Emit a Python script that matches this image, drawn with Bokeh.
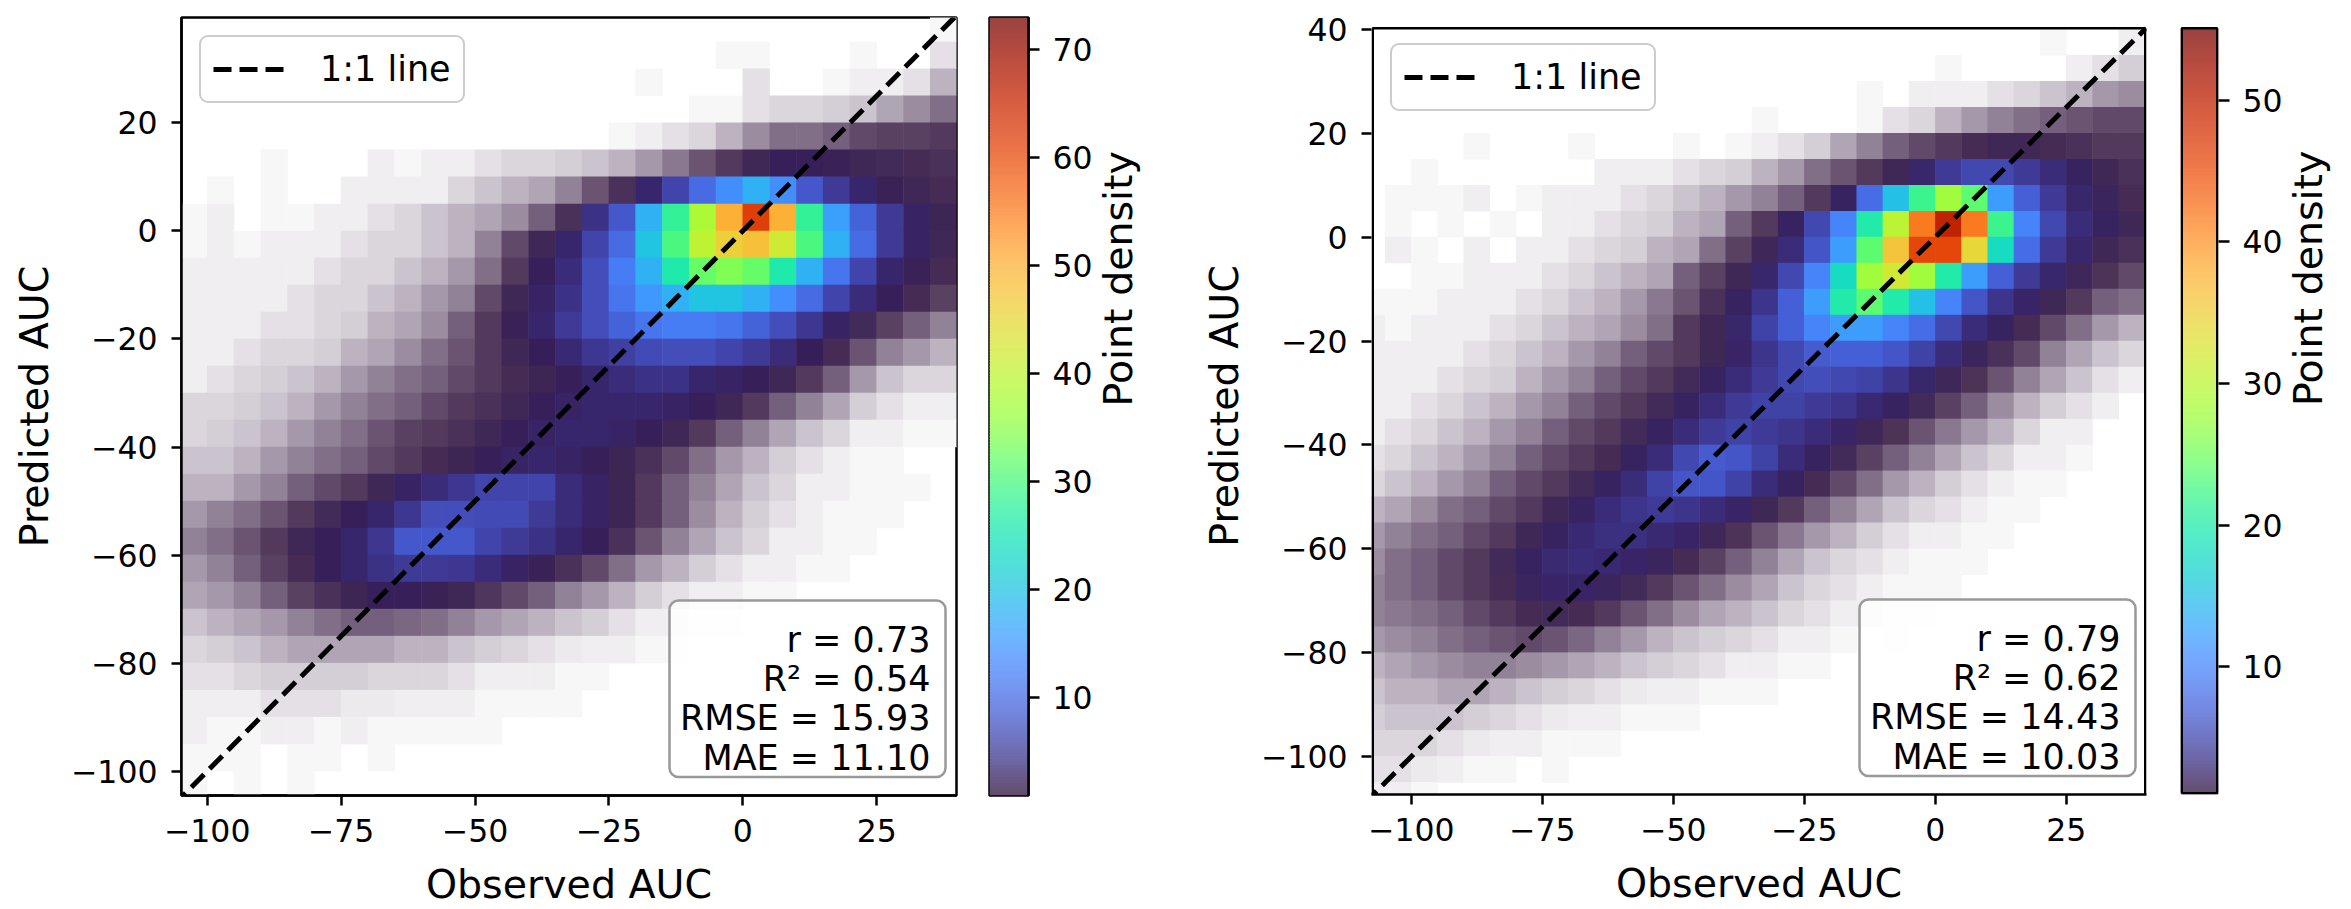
import math
from bokeh.plotting import figure
from bokeh.models import (Range1d, FixedTicker, Legend, LegendItem, BoxAnnotation,
                          Label, ColumnDataSource)
from bokeh.layouts import row
from bokeh.palettes import Turbo256
from bokeh.embed import file_html
from bokeh.resources import INLINE

FONT = "DejaVu Sans"

# ---------------- axis ranges / ticks ----------------
left_xlim = (-104.8, 39.9)
left_ylim = (-104.5, 39.5)
right_xlim = (-107.6, 40.3)
right_ylim = (-107.3, 40.2)

x_ticks = [-100, -75, -50, -25, 0, 25]
left_y_ticks = [-100, -80, -60, -40, -20, 0, 20]
right_y_ticks = [-100, -80, -60, -40, -20, 0, 20, 40]

left_cbar_lim = (0.93, 72.95)
right_cbar_lim = (1.0, 55.07)
left_cbar_ticks = [10, 20, 30, 40, 50, 60, 70]
right_cbar_ticks = [10, 20, 30, 40, 50]

left_stats = ["r = 0.73", "R² = 0.54", "RMSE = 15.93", "MAE = 11.10"]
right_stats = ["r = 0.79", "R² = 0.62", "RMSE = 14.43", "MAE = 10.03"]

x_label = "Observed AUC"
y_label = "Predicted AUC"
cbar_label = "Point density"
line_label = "1:1 line"

# ---------------- density ----------------
# 5x5 AUC cells; rows go from y=40 downward, columns from x_start rightward.
# values are point density (colour-bar units); values < 1 = sparse coverage.
cell = 5
grid_top = 40
left_x_start = -105
right_x_start = -110

left_density = [
    [0]*28 + [.03],
    [0]*20 + [.03, .03, 0, 0, 0, .03, 0, 0, .08],
    [0]*17 + [.03, 0, 0, 0, .08, 0, 0, .03, .05, .05, .08, .2],
    [0]*19 + [.03, .03, .08, .1, .1, .12, .15, .25, .35, .5],
    [0]*16 + [.03, .05, .08, .1, .2, .35, .5, .5, .6, .8, .9, .9, 1.0],
    [0, 0, 0, .03, 0, 0, 0, .05, .03, .05, .05, .08, .1, .1, .12, .15, .2, .3, .45, .7, 1.0, 1.5, 2, 2, 1.8, 1.5, 1.4, 1.3, 1.2],
    [0, .03, 0, .03, 0, 0, .05, .05, .05, .05, .1, .15, .2, .25, .4, .7, 1.2, 3, 6, 10, 14, 18, 14, 8, 5, 3, 1.8, 1.5, 1.3],
    [.03, .05, 0, .03, .03, .05, .05, .08, .1, .15, .2, .25, .35, .6, 1.2, 4, 8, 18, 28, 38, 50, 62, 50, 28, 16, 9, 5, 2.5, 1.6],
    [.03, .05, .03, .05, .05, .05, .08, .1, .1, .15, .2, .4, .8, 1.5, 3, 6, 10, 20, 30, 40, 46, 48, 42, 30, 18, 10, 5, 2.5, 1.5],
    [.05, .05, .05, .05, .05, .08, .1, .1, .15, .2, .3, .5, 1.0, 2, 3.5, 7, 12, 18, 26, 32, 34, 32, 26, 18, 11, 6, 3, 1.8, 1.3],
    [.05, .05, .05, .05, .08, .1, .1, .15, .2, .3, .4, .8, 1.5, 2.5, 4, 7, 11, 15, 18, 20, 20, 18, 14, 10, 6, 3.5, 2, 1.3, .9],
    [.05, .05, .05, .08, .08, .1, .12, .2, .25, .35, .6, 1.0, 1.8, 3, 5, 7, 9, 11, 12, 12, 11, 9, 7, 4.5, 2.5, 1.4, .9, .6, .4],
    [.05, .05, .08, .1, .1, .12, .2, .25, .35, .5, .7, 1.0, 1.5, 2.2, 3.2, 4.5, 5.5, 6.5, 7, 7, 6, 5, 3.5, 2.2, 1.3, .7, .4, .3, .2],
    [.05, .08, .1, .12, .15, .2, .3, .4, .5, .6, .8, 1.0, 1.3, 1.6, 2, 3, 3.5, 4, 4, 3, 2.5, 2, 1.5, 1.0, .6, .3, .15, .1, .1],
    [.1, .1, .12, .15, .2, .3, .4, .5, .6, .8, 1.0, 1.2, 1.5, 2, 2.5, 3, 3, 3, 2.5, 2, 1.5, 1.0, .6, .4, .25, .12, .08, .05, .05],
    [.1, .12, .15, .2, .3, .4, .5, .7, .9, 1.0, 1.2, 1.5, 2, 2.5, 3, 3, 2.5, 2, 1.5, 1.0, .6, .4, .25, .15, .1, .05, .05, .03, .03],
    [.15, .15, .2, .3, .4, .5, .6, .8, 1.0, 1.3, 1.6, 2, 2.5, 3, 2.5, 2, 1.6, 1.2, .8, .5, .3, .2, .12, .08, .05, .03, .03, 0, 0],
    [.2, .2, .3, .4, .6, .8, 1.0, 1.5, 2.5, 3.5, 4.5, 6, 6, 6, 3.5, 2.5, 1.6, 1.0, .6, .4, .25, .15, .1, .05, .05, .03, .03, .03, 0],
    [.3, .4, .5, .7, 1.0, 1.4, 2, 3, 4.5, 7, 7, 6.5, 6.5, 5, 3.5, 2.5, 1.6, 1.0, .6, .35, .2, .12, .08, .05, .03, .03, .03, 0, 0],
    [.4, .5, .7, 1.0, 1.5, 2, 3, 4.5, 8, 8, 8, 6, 5, 4, 3, 2, 1.2, .7, .4, .25, .15, .1, .05, .05, .03, .03, 0, 0, 0],
    [.3, .4, .6, .9, 1.3, 2, 3, 4, 5, 5, 4.5, 3.5, 2.5, 1.8, 1.2, .8, .5, .3, .2, .12, .08, .05, .05, .03, .03, 0, 0, 0, 0],
    [.25, .3, .4, .6, .9, 1.2, 1.6, 2, 2, 1.8, 1.5, 1.1, .8, .6, .4, .3, .2, .12, .08, .05, .05, .03, .03, 0, 0, 0, 0, 0, 0],
    [.15, .2, .25, .3, .4, .5, .6, .6, .55, .5, .4, .3, .25, .2, .15, .12, .08, .05, .05, .03, .03, 0, 0, 0, 0, 0, 0, 0, 0],
    [.1, .12, .15, .2, .25, .25, .25, .25, .2, .2, .15, .12, .1, .08, .06, .05, .05, .03, .03] + [0]*10,
    [.08, .08, .1, .12, .12, .12, .12, .1, .1, .1, .08, .05, .05, .05, .03, .03] + [0]*13,
    [.05, .05, .05, .08, .08, .08, .06, .06, .05, .05, .05, .03, .03, .03, .03] + [0]*14,
    [.05, .03, .03, .05, .05, .03, .05, .03, .03, .03, .03, .03] + [0]*17,
    [.03, .03, .03, 0, .03, .03, 0, .03] + [0]*21,
    [.03, 0, .03, 0, .03] + [0]*24,
]

right_density = [
    [0]*26 + [.03, 0, 0, .05],
    [0]*22 + [.03, 0, 0, 0, 0, .05, .08, .12],
    [0]*19 + [.03, 0, .05, .05, .05, .08, .1, .15, .2, .3, .35],
    [0]*15 + [.03, 0, 0, 0, .03, .08, .1, .2, .3, .4, .5, .6, .7, .8, .8],
    [0, 0, 0, 0, .03, 0, 0, 0, .03, 0, 0, 0, .03, 0, .03, .05, .08, .12, .25, .4, .6, .8, 1.0, 1.3, 1.5, 1.5, 1.3, 1.2, 1.0, 1.0],
    [0, 0, .03, 0, 0, 0, 0, 0, 0, .05, .05, .05, .08, .1, .12, .2, .3, .5, .7, 1.0, 1.5, 2.5, 4, 5, 5, 4, 3, 2, 1.5, 1.2],
    [0, .03, .03, .03, .05, 0, .03, .05, .05, .05, .08, .1, .15, .2, .3, .4, .6, 1.0, 2, 8, 15, 22, 28, 24, 12, 7, 4, 2.5, 1.8, 1.3],
    [0, .03, 0, .03, 0, .03, 0, .05, .05, .08, .1, .12, .2, .25, .6, 1.0, 2, 5, 10, 20, 30, 42, 50, 42, 22, 10, 5, 3, 2, 1.5],
    [0, .05, .03, 0, .05, 0, .05, .05, .08, .1, .12, .2, .25, .5, .9, 1.6, 3, 6, 12, 24, 36, 46, 46, 34, 18, 8, 4, 2.5, 1.5, 1.2],
    [0, 0, .03, .03, .05, .05, .05, .08, .1, .15, .2, .25, .6, .9, 1.5, 2.5, 5, 10, 18, 28, 32, 28, 20, 12, 7, 4, 2.5, 1.6, 1.1, .8],
    [.03, .03, .03, .05, .05, .05, .08, .1, .15, .2, .3, .45, .7, 1.2, 2, 3.5, 7, 12, 20, 24, 20, 15, 10, 6, 3.5, 2.2, 1.5, 1.0, .6, .5],
    [.05, .03, .05, .05, .05, .08, .1, .15, .2, .25, .35, .5, 1.0, 1.5, 2.5, 4.5, 7, 10, 12, 12, 10, 8, 5, 3, 2, 1.3, .8, .5, .3, .2],
    [.05, .05, .05, .05, .08, .1, .15, .2, .3, .4, .6, .8, 1.0, 1.5, 2.2, 3.5, 5, 6.5, 7, 7, 6, 4.5, 3, 1.8, 1.2, .8, .4, .25, .15, .1],
    [.05, .05, .05, .08, .1, .12, .2, .3, .4, .6, .8, 1.0, 1.4, 2, 3, 4, 5, 5.5, 5, 4.5, 3.5, 2.5, 1.6, 1.1, .7, .4, .25, .15, .08, .05],
    [.05, .05, .08, .1, .15, .2, .3, .4, .6, .8, 1.0, 1.4, 2, 3, 4, 4.5, 4.5, 4, 3.5, 2.8, 2, 1.4, .9, .6, .35, .2, .12, .08, .05, 0],
    [.05, .08, .1, .15, .2, .3, .4, .6, .8, 1.0, 1.4, 2, 3, 4, 4.5, 4, 3.5, 3, 2.2, 1.6, 1.1, .7, .45, .3, .2, .1, .05, .05, 0, 0],
    [.08, .1, .15, .2, .3, .4, .6, .8, 1.0, 1.3, 2, 3, 5, 6.5, 6, 4.5, 3, 2, 1.4, .9, .6, .4, .25, .15, .1, .05, .05, .03, 0, 0],
    [.1, .15, .2, .3, .4, .6, .8, 1.0, 1.4, 2, 3, 4.5, 6, 6, 4.5, 3, 2, 1.3, .8, .5, .3, .2, .12, .08, .05, .03, .03, 0, 0, 0],
    [.2, .25, .35, .5, .6, .8, 1.0, 1.5, 2, 3, 3.5, 4, 3.5, 3, 2.2, 1.5, 1.0, .6, .4, .25, .15, .1, .08, .05, .03, .03, 0, 0, 0, 0],
    [.3, .4, .5, .6, .8, 1.0, 1.5, 2, 2.8, 3.2, 3.2, 2.8, 2.2, 1.6, 1.1, .7, .45, .3, .2, .12, .08, .05, .05, .03, .03, 0, 0, 0, 0, 0],
    [.35, .5, .6, .8, 1.0, 1.4, 2, 2.6, 3, 2.8, 2.3, 1.8, 1.3, .9, .6, .4, .25, .15, .1, .08, .05, .03, .03, .03, 0, 0, 0, 0, 0, 0],
    [.4, .5, .6, .8, 1.0, 1.3, 1.8, 2.2, 2.2, 1.8, 1.4, 1.0, .7, .5, .35, .25, .15, .1, .08, .05, .03, .03, .03, 0, 0, 0, 0, 0, 0, 0],
    [.4, .45, .5, .6, .8, 1.0, 1.3, 1.4, 1.3, 1.0, .7, .5, .35, .25, .2, .15, .1, .08, .05, .05, .03, .03, 0, 0, 0, 0, 0, 0, 0, 0],
    [.3, .35, .4, .5, .6, .7, .8, .7, .55, .4, .3, .2, .15, .12, .1, .08, .05, .05, .03, 0, .03] + [0]*9,
    [.2, .25, .3, .35, .4, .4, .35, .3, .25, .2, .15, .12, .1, .08, .05, .05, .03, .03] + [0]*12,
    [.15, .2, .2, .25, .25, .2, .15, .12, .1, .08, .06, .05, .05, .03, .03, .03] + [0]*14,
    [.12, .15, .15, .15, .12, .1, .08, .06, .05, .05, .03, .03, .03] + [0]*17,
    [.1, .1, .1, .08, .06, .05, .05, .03, .03, .03] + [0]*20,
    [.08, .08, .06, .05, .03, .03, 0, .03] + [0]*22,
    [.05, .05, .03] + [0]*27,
]

# ---------------- layout (pixels) ----------------
TOP = 17                      # shared top border of every figure in the row
LEFT_FRAME_H = 778
RIGHT_FRAME_H = 777           # right panel frame incl. a hidden band at the top
RIGHT_HIDDEN_PX = 10.8


def hex2rgb(h):
    return tuple(int(h[i:i + 2], 16) for i in (1, 3, 5))

TURBO = [hex2rgb(h) for h in Turbo256]


def blend(rgb, a):
    return "#%02x%02x%02x" % tuple(int(round(255 + (c - 255) * a)) for c in rgb)


def turbo_at(d, lim):
    t = (max(d, lim[0]) - lim[0]) / (lim[1] - lim[0])
    return TURBO[int(round(min(1.0, max(0.0, t)) * 255))]


def minus(v):
    return ("\u2212" + str(-v)) if v < 0 else str(v)


def style_axis(ax, label_std, tick_std):
    ax.axis_line_width = 2.5
    ax.axis_line_color = "black"
    ax.major_tick_line_width = 2.5
    ax.major_tick_line_color = "black"
    ax.major_tick_out = 10
    ax.major_tick_in = 0
    ax.minor_tick_line_color = None
    ax.major_label_text_font = FONT
    ax.major_label_text_font_size = "31.5px"
    ax.major_label_text_color = "black"
    ax.major_label_standoff = tick_std
    ax.axis_label_text_font = FONT
    ax.axis_label_text_font_size = "39.5px"
    ax.axis_label_text_font_style = "normal"
    ax.axis_label_text_color = "black"
    ax.axis_label_standoff = label_std


def scatter_panel(density, x_start, xlim, ylim, yticks, clim, stats,
                  frame_h, hidden_px, b_left, b_bottom, legend_loc):
    sy_unit = (ylim[1] - ylim[0]) / float(frame_h - hidden_px)
    y_top = ylim[1] + hidden_px * sy_unit
    p = figure(title=None, frame_width=775, frame_height=frame_h,
               x_range=Range1d(*xlim), y_range=Range1d(ylim[0], y_top),
               toolbar_location=None, output_backend="svg",
               min_border_left=b_left, min_border_right=4,
               min_border_top=TOP, min_border_bottom=b_bottom)
    p.background_fill_color = "white"
    p.border_fill_color = "white"
    p.grid.visible = False
    sx = (xlim[1] - xlim[0]) / 775.0
    sy = sy_unit

    xs, ys, cols = [], [], []
    for j, rowvals in enumerate(density):
        yc = grid_top - cell * j - cell / 2
        for k, d in enumerate(rowvals):
            if d <= 0:
                continue
            xc = x_start + cell * k + cell / 2
            op = (1 - math.exp(-2.3 * d)) * min(1.0, d / 0.1) ** 0.4
            strength = op * (0.85 + 0.15 * min(1.0, d / 2.0))
            xs.append(xc)
            ys.append(yc)
            cols.append(blend(turbo_at(d, clim), strength))
    src = ColumnDataSource(dict(x=xs, y=ys, color=cols))
    p.rect(x="x", y="y", width=cell * 1.02, height=cell * 1.02, source=src,
           fill_color="color", line_color=None)

    lo = min(xlim[0], ylim[0]) - 5
    hi = min(xlim[1], ylim[1]) if hidden_px > 0 else max(xlim[1], ylim[1]) + 5
    diag = [lo, hi]
    r = p.line(x=diag, y=diag, line_color="black", line_width=5, line_dash="18 8")

    if hidden_px > 0:
        # visible frame border drawn as lines (the band above ylim[1] stays blank)
        p.outline_line_color = None
        ex = 1.25 * sx
        p.line(x=[xlim[0] + ex, xlim[0] + ex, xlim[1] - ex, xlim[1] - ex],
               y=[ylim[0], ylim[1], ylim[1], ylim[0]],
               line_color="black", line_width=2.5)
    else:
        p.outline_line_color = "black"
        p.outline_line_width = 2.5

    legend = Legend(items=[LegendItem(label=line_label, renderers=[r])],
                    location=legend_loc, margin=18, padding=12, spacing=0,
                    glyph_width=71, glyph_height=36, label_standoff=36,
                    label_text_font=FONT, label_text_font_size="35px",
                    label_text_color="black",
                    border_line_color="#999999", border_line_width=2.5,
                    background_fill_color="white", background_fill_alpha=0.8)
    if "border_radius" in Legend.properties():
        legend.border_radius = 9
    p.add_layout(legend)

    box = BoxAnnotation(left=xlim[0] + 488 * sx, right=xlim[0] + 764 * sx,
                        bottom=ylim[0] + 18.5 * sy, top=ylim[0] + 195 * sy,
                        fill_color="white", fill_alpha=0.8,
                        line_color="#999999", line_width=2.5, line_alpha=1.0)
    if "border_radius" in BoxAnnotation.properties():
        box.border_radius = 9
    p.add_layout(box)
    baselines = [156, 117, 77.5, 37.5]
    for txt, b in zip(stats, baselines):
        p.add_layout(Label(x=xlim[0] + 749 * sx, y=ylim[0] + b * sy, text=txt,
                           text_align="right", text_baseline="alphabetic",
                           text_font=FONT, text_font_size="35px",
                           text_color="black"))

    p.xaxis.ticker = FixedTicker(ticks=x_ticks)
    p.yaxis.ticker = FixedTicker(ticks=yticks)
    p.xaxis.major_label_overrides = {t: minus(t) for t in x_ticks}
    p.yaxis.major_label_overrides = {t: minus(t) for t in yticks}
    p.xaxis.axis_label = x_label
    p.yaxis.axis_label = y_label
    style_axis(p.xaxis[0], 16, 13)
    style_axis(p.yaxis[0], 11, 14)
    if hidden_px > 0:
        p.yaxis[0].axis_line_color = None
    return p


def cbar_panel(clim, ticks, frame_w, frame_h, hidden_px, b_left, b_right, b_bottom):
    unit = (clim[1] - clim[0]) / float(frame_h - hidden_px)
    c = figure(title=None, frame_width=frame_w, frame_height=frame_h,
               x_range=Range1d(0, 1), y_range=Range1d(clim[0], clim[1] + hidden_px * unit),
               x_axis_location=None, y_axis_location="right",
               toolbar_location=None, output_backend="svg",
               min_border_left=b_left, min_border_right=b_right,
               min_border_top=TOP, min_border_bottom=b_bottom)
    c.background_fill_color = "white"
    c.border_fill_color = "white"
    c.grid.visible = False
    n = 256
    step = (clim[1] - clim[0]) / n
    bottoms = [clim[0] + step * i for i in range(n)]
    tops = [min(clim[1], b + step * 1.3) for b in bottoms]
    colors = [blend(TURBO[i], 0.75) for i in range(n)]
    c.quad(left=0, right=1, bottom=bottoms, top=tops, fill_color=colors, line_color=None)
    ax = c.yaxis[0]
    ax.ticker = FixedTicker(ticks=ticks)
    ax.axis_label = cbar_label
    style_axis(ax, 22, 13)
    ax.major_tick_out = 11
    ax.axis_label_orientation = math.pi / 2
    if hidden_px > 0:
        c.outline_line_color = None
        ax.axis_line_color = None
        ex = 1.25 / frame_w
        ey = 1.25 * unit
        c.line(x=[ex, ex, 1 - ex, 1 - ex, ex], y=[clim[0] + ey, clim[1], clim[1], clim[0] + ey, clim[0] + ey],
               line_color="black", line_width=2.5)
    else:
        c.outline_line_color = "black"
        c.outline_line_width = 2.5
    return c


pA = scatter_panel(left_density, left_x_start, left_xlim, left_ylim, left_y_ticks,
                   left_cbar_lim, left_stats, LEFT_FRAME_H, 0, 181, 106, "top_left")
cA = cbar_panel(left_cbar_lim, left_cbar_ticks, 39, LEFT_FRAME_H, 0, 29, 142, 106)
pB = scatter_panel(right_density, right_x_start, right_xlim, right_ylim, right_y_ticks,
                   right_cbar_lim, right_stats, RIGHT_FRAME_H, RIGHT_HIDDEN_PX, 201, 107, (19, 683))
cB = cbar_panel(right_cbar_lim, right_cbar_ticks, 38, RIGHT_FRAME_H, RIGHT_HIDDEN_PX, 30, 122, 107)

layout = row(pA, cA, pB, cB, spacing=0)
open("out.html", "w").write(file_html(layout, INLINE))
